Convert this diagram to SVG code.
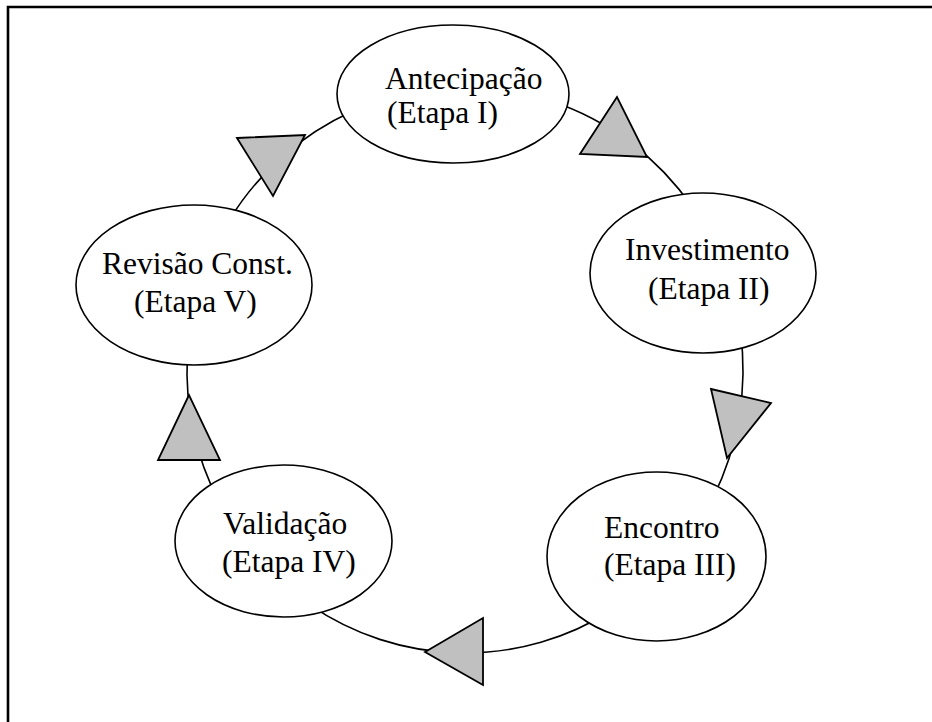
<svg xmlns="http://www.w3.org/2000/svg" width="932" height="722" viewBox="0 0 932 722">
<style>
.node ellipse{fill:#fff;stroke:#000;stroke-width:1.6}
.node text{font-family:"Liberation Serif","Times New Roman",serif;font-size:31.5px;fill:#000}
.arc{fill:none;stroke:#000;stroke-width:1.6}
.tri{fill:#c0c0c0;stroke:#000;stroke-width:1.8;stroke-linejoin:miter}
</style>
<rect width="932" height="722" fill="#fff"/>
<path d="M8,722 V7 H932" fill="none" stroke="#000" stroke-width="2.6"/>
<g id="connectors">
<path class="arc" d="M550.9,100.9 A278,283 0 0 1 692.7,207.6"/>
<path class="arc" d="M740.3,330.6 A278,283 0 0 1 712.7,498.5"/>
<path class="arc" d="M612.3,610 A278,283 0 0 1 309.5,604.6"/>
<path class="arc" d="M219.5,502.7 A278,283 0 0 1 187.4,355.2"/>
<path class="arc" d="M229.3,220 A278,283 0 0 1 351.9,111.4"/>
<polygon class="tri" points="617,97 580,154 647,157"/>
<polygon class="tri" points="711,389 771,403 727,458"/>
<polygon class="tri" points="425,652 483,618 483,685"/>
<polygon class="tri" points="189,395 158,460 220,460"/>
<polygon class="tri" points="237,138 305,135 273,196"/>
</g>
<g id="n1" class="node">
<ellipse cx="453" cy="94" rx="116" ry="69"/>
<text x="385" y="89">Antecipação</text>
<text x="387" y="123">(Etapa I)</text>
</g>
<g id="n2" class="node">
<ellipse cx="703" cy="273" rx="113" ry="80"/>
<text x="625" y="260">Investimento</text>
<text x="648" y="299">(Etapa II)</text>
</g>
<g id="n3" class="node">
<ellipse cx="656.5" cy="556.5" rx="109.5" ry="84.5"/>
<text x="604" y="538">Encontro</text>
<text x="604" y="575">(Etapa III)</text>
</g>
<g id="n4" class="node">
<ellipse cx="283.5" cy="541" rx="108.5" ry="76"/>
<text x="223" y="534">Validação</text>
<text x="222" y="572">(Etapa IV)</text>
</g>
<g id="n5" class="node">
<ellipse cx="194" cy="285" rx="118" ry="80"/>
<text x="102" y="274">Revisão Const.</text>
<text x="134" y="312">(Etapa V)</text>
</g>
</svg>
